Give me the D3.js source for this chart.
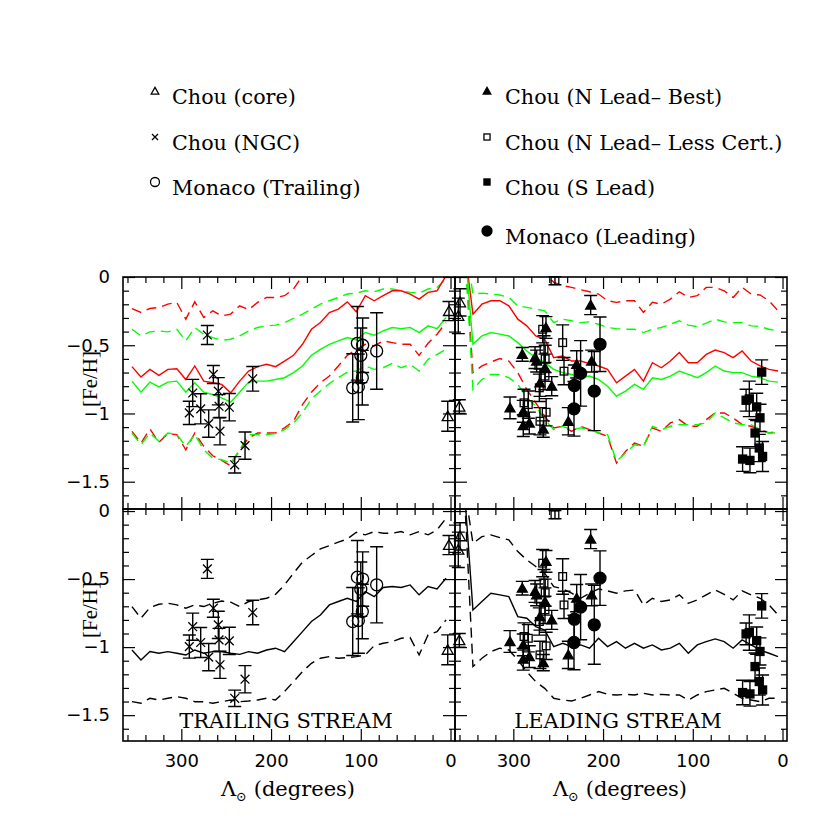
<!DOCTYPE html>
<html><head><meta charset="utf-8">
<script src="https://cdn.jsdelivr.net/npm/d3@7"></script>
<style>body{margin:0;background:#fff}</style>
</head><body><svg id="c" width="830" height="830"></svg>
<script>
// ---------- data ----------
const lambdaGrid = [355,345,335,325,315,305,295,285,275,265,255,245,235,225,215,205,195,185,175,165,155,145,135,125,115,105,95,85,75,65,55,45,35,25,15,5];

// trailing-stream model curves (top: red = one model, green = other; bottom: black)
const trailRedSolid   = [-0.657,-0.733,-0.677,-0.721,-0.677,-0.672,-0.751,-0.652,-0.763,-0.775,-0.787,-0.849,-0.763,-0.689,-0.657,-0.640,-0.657,-0.616,-0.574,-0.493,-0.383,-0.334,-0.260,-0.235,-0.182,-0.255,-0.137,-0.174,-0.137,-0.101,-0.101,-0.125,-0.162,-0.113,-0.101,0.010];
const trailGreenSolid = [-0.763,-0.844,-0.770,-0.805,-0.770,-0.763,-0.844,-0.775,-0.844,-0.861,-0.885,-0.917,-0.844,-0.770,-0.763,-0.763,-0.751,-0.738,-0.701,-0.652,-0.574,-0.530,-0.493,-0.468,-0.444,-0.461,-0.407,-0.427,-0.395,-0.370,-0.378,-0.370,-0.407,-0.358,-0.378,-0.297];
const trailRedUpper   = [-0.231,-0.260,-0.231,-0.223,-0.199,-0.186,-0.309,-0.182,-0.297,-0.248,-0.285,-0.272,-0.211,-0.240,-0.186,-0.150,-0.150,-0.137,-0.088,0.010,0.06,0.08,0.10,0.12,0.14,0.10,0.15,0.13,0.15,0.17,0.17,0.15,0.12,0.16,0.17,0.25];
const trailGreenUpper = [-0.383,-0.432,-0.402,-0.395,-0.402,-0.383,-0.468,-0.370,-0.419,-0.444,-0.464,-0.456,-0.432,-0.395,-0.370,-0.358,-0.353,-0.334,-0.304,-0.272,-0.235,-0.199,-0.174,-0.150,-0.125,-0.118,-0.101,-0.108,-0.088,-0.088,-0.101,-0.113,-0.118,-0.088,-0.076,-0.015];
const trailRedLower   = [-1.131,-1.217,-1.114,-1.212,-1.148,-1.155,-1.266,-1.143,-1.241,-1.310,-1.344,-1.383,-1.266,-1.180,-1.143,-1.143,-1.143,-1.106,-1.057,-0.935,-0.844,-0.775,-0.726,-0.652,-0.574,-0.530,-0.493,-0.505,-0.468,-0.481,-0.493,-0.493,-0.574,-0.486,-0.419,-0.334];
const trailGreenLower = [-1.143,-1.229,-1.143,-1.204,-1.143,-1.155,-1.241,-1.155,-1.266,-1.327,-1.339,-1.364,-1.266,-1.155,-1.155,-1.155,-1.148,-1.119,-1.070,-0.996,-0.893,-0.836,-0.780,-0.738,-0.697,-0.689,-0.652,-0.677,-0.665,-0.633,-0.665,-0.640,-0.689,-0.603,-0.567,-0.530];
const trailBlackSolid = [-1.021,-1.094,-1.033,-1.045,-1.033,-1.045,-1.058,-1.021,-1.045,-1.033,-1.033,-1.045,-1.053,-1.033,-1.045,-1.021,-1.008,-1.033,-0.960,-0.886,-0.812,-0.764,-0.690,-0.665,-0.641,-0.665,-0.592,-0.629,-0.562,-0.555,-0.562,-0.543,-0.616,-0.555,-0.572,-0.494];
const trailBlackUpper = [-0.702,-0.788,-0.710,-0.685,-0.678,-0.690,-0.714,-0.690,-0.702,-0.678,-0.661,-0.670,-0.702,-0.665,-0.653,-0.641,-0.612,-0.543,-0.457,-0.376,-0.327,-0.278,-0.254,-0.229,-0.205,-0.156,-0.175,-0.151,-0.163,-0.163,-0.151,-0.175,-0.151,-0.175,-0.138,-0.053];
const trailBlackLower = [-1.401,-1.413,-1.376,-1.389,-1.376,-1.364,-1.376,-1.401,-1.401,-1.413,-1.401,-1.389,-1.401,-1.396,-1.389,-1.376,-1.389,-1.327,-1.254,-1.180,-1.119,-1.082,-1.070,-1.082,-1.077,-1.070,-1.058,-0.989,-0.972,-0.960,-0.935,-0.930,-1.058,-0.910,-0.886,-0.800];

// leading-stream model curves
const leadRedSolid   = [0.25,-0.272,-0.199,-0.174,-0.174,-0.211,-0.309,-0.358,-0.432,-0.456,-0.591,-0.579,-0.616,-0.616,-0.635,-0.652,-0.677,-0.775,-0.726,-0.677,-0.763,-0.628,-0.665,-0.616,-0.554,-0.628,-0.628,-0.567,-0.535,-0.554,-0.591,-0.542,-0.616,-0.652,-0.677,-0.689];
const leadGreenSolid = [0.3,-0.493,-0.432,-0.407,-0.419,-0.432,-0.481,-0.542,-0.591,-0.628,-0.677,-0.701,-0.714,-0.738,-0.726,-0.751,-0.800,-0.873,-0.836,-0.787,-0.824,-0.738,-0.751,-0.726,-0.689,-0.714,-0.738,-0.701,-0.652,-0.689,-0.701,-0.701,-0.726,-0.738,-0.763,-0.770];
const leadRedUpper   = [0.3,0.2,0.25,0.27,0.27,0.25,0.18,0.12,0.08,0.03,-0.039,-0.064,-0.076,-0.093,-0.108,-0.125,-0.174,-0.186,-0.174,-0.174,-0.260,-0.186,-0.199,-0.162,-0.108,-0.150,-0.137,-0.076,-0.076,-0.101,-0.150,-0.076,-0.125,-0.132,-0.174,-0.248];
const leadGreenUpper = [0.3,-0.125,-0.118,-0.125,-0.132,-0.150,-0.211,-0.223,-0.235,-0.248,-0.334,-0.309,-0.321,-0.334,-0.329,-0.346,-0.370,-0.378,-0.383,-0.383,-0.407,-0.383,-0.370,-0.346,-0.321,-0.353,-0.363,-0.338,-0.309,-0.329,-0.334,-0.334,-0.358,-0.363,-0.383,-0.395];
const leadRedLower   = [0.3,-0.701,-0.652,-0.623,-0.598,-0.616,-0.701,-0.824,-0.922,-1.020,-1.106,-1.094,-1.131,-1.094,-1.118,-1.143,-1.168,-1.364,-1.278,-1.217,-1.241,-1.106,-1.131,-1.069,-1.045,-1.094,-1.094,-1.045,-0.996,-0.996,-1.033,-1.082,-1.094,-1.118,-1.143,-1.131];
const leadGreenLower = [0.3,-0.824,-0.751,-0.714,-0.714,-0.738,-0.787,-0.885,-0.947,-1.045,-1.118,-1.094,-1.118,-1.106,-1.118,-1.143,-1.155,-1.351,-1.290,-1.229,-1.241,-1.094,-1.118,-1.094,-1.082,-1.082,-1.082,-1.069,-0.996,-1.033,-1.069,-1.082,-1.082,-1.118,-1.143,-1.143];
const leadBlackSolid = [0.2,-0.727,-0.665,-0.604,-0.616,-0.629,-0.776,-0.788,-0.849,-0.874,-0.996,-0.972,-0.996,-0.984,-1.008,-0.935,-0.996,-0.960,-1.008,-0.972,-1.008,-0.984,-1.021,-1.008,-0.972,-1.045,-0.984,-0.960,-0.940,-0.960,-1.008,-0.947,-0.984,-1.021,-1.045,-1.070];
const leadBlackUpper = [0.2,-0.237,-0.188,-0.175,-0.195,-0.212,-0.298,-0.359,-0.408,-0.457,-0.555,-0.572,-0.604,-0.641,-0.604,-0.572,-0.587,-0.604,-0.587,-0.580,-0.690,-0.641,-0.665,-0.653,-0.616,-0.678,-0.653,-0.616,-0.580,-0.612,-0.653,-0.587,-0.616,-0.641,-0.690,-0.763];
const leadBlackLower = [0.2,-1.143,-1.082,-1.033,-1.008,-1.021,-1.094,-1.180,-1.254,-1.303,-1.376,-1.389,-1.396,-1.376,-1.352,-1.327,-1.347,-1.352,-1.347,-1.352,-1.339,-1.352,-1.347,-1.352,-1.352,-1.389,-1.352,-1.327,-1.315,-1.303,-1.339,-1.376,-1.389,-1.401,-1.376,-1.376];

// observations: longitude, [Fe/H], error
const coreLam = [1.7,-10.6,-8.7,3.1,-9.8];
const coreFe  = [-0.25,-0.186,-0.285,-1.02,-0.95];
const coreErr = [0.07,0.10,0.13,0.11,0.05];

const ngcLam = [271,264.3,287.3,258.8,291.1,278.4,258,246.5,269.5,256.9,240.5,229,220.4];
const ngcFe  = [-0.425,-0.714,-0.85,-0.837,-0.996,-0.966,-0.947,-0.954,-1.074,-1.13,-1.376,-1.236,-0.746];
const ngcErr = [0.07,0.066,0.1,0.1,0.085,0.11,0.085,0.1,0.1,0.1,0.06,0.1,0.09];

const monTLam = [109,102.7,103.8,97.9,100,98.3,82.3];
const monTFe  = [-0.812,-0.805,-0.486,-0.5,-0.574,-0.738,-0.542];
const monTErr = [0.25,0.24,0.27,0.2,0.2,0.2,0.28];

const nBestLam = [290,303.7,288.9,288.9,282.2,275.8,274,263.6,264.7,270.3,257.2,266.6,238.7,229.4,212.7,213.8];
const nBestFe  = [-0.567,-0.959,-0.984,-1.089,-1.07,-0.591,-0.616,-0.37,-0.665,-0.775,-0.8,-1.114,-1.057,-0.64,-0.616,-0.206];
const nBestErr = [0.05,0.08,0.08,0.08,0.08,0.08,0.08,0.08,0.1,0.1,0.07,0.06,0.1,0.1,0.08,0.07];

const nLessLam = [253.6,267.3,245,265.8,264.5,243.5,264.7,271,288.1,283.3,263.4,270.3];
const nLessFe  = [-0.027,-0.383,-0.481,-0.53,-0.6,-0.69,-0.726,-0.812,-0.922,-0.935,-0.991,-1.057];
const nLessErr = [0.03,0.1,0.13,0.1,0.1,0.1,0.1,0.1,0.1,0.1,0.1,0.1];

const sLeadLam = [23.2,40.6,37,28.8,25.1,30.6,25.9,44.5,36.3,22.2];
const sLeadFe  = [-0.697,-0.903,-0.893,-0.952,-1.032,-1.143,-1.253,-1.334,-1.344,-1.315];
const sLeadErr = [0.09,0.08,0.13,0.1,0.1,0.1,0.1,0.09,0.09,0.11];

const monLLam = [203.4,225,232,232.4,209.8];
const monLFe  = [-0.493,-0.706,-0.795,-0.966,-0.836];
const monLErr = [0.2,0.24,0.15,0.2,0.29];

const xMajor = [300,200,100,0];
const xMinor = [360,340,320,280,260,240,220,180,160,140,120,80,60,40,20];
const yMajor = [0,-0.5,-1,-1.5];
const yMinor = [-0.1,-0.2,-0.3,-0.4,-0.6,-0.7,-0.8,-0.9,-1.1,-1.2,-1.3,-1.4,-1.6];

const legendLeft  = ["Chou (core)","Chou (NGC)","Monaco (Trailing)"];
const legendRight = ["Chou (N Lead\u2013 Best)","Chou (N Lead\u2013 Less Cert.)","Chou (S Lead)","Monaco (Leading)"];

// ---------- drawing ----------
const svg = d3.select("#c");
const SERIF = "'DejaVu Serif', serif";
const TSERIF = "'Liberation Serif', serif";
const SANS = "'DejaVu Sans', sans-serif";
const RED = "#ff0000", GREEN = "#00ff00";

const xL = d3.scaleLinear().domain([365,-5]).range([123,455]);
const xR = d3.scaleLinear().domain([365,-5]).range([455,787]);
const yT = d3.scaleLinear().domain([0,-1.7]).range([277,509]);
const yB = d3.scaleLinear().domain([0.015,-1.69]).range([509,741]);

const panels = [
  {id:"tl", x:xL, y:yT, ylab:true,  xlab:false},
  {id:"tr", x:xR, y:yT, ylab:false, xlab:false},
  {id:"bl", x:xL, y:yB, ylab:true,  xlab:true},
  {id:"br", x:xR, y:yB, ylab:false, xlab:true}
];
const P = Object.fromEntries(panels.map(p=>[p.id,p]));

const defs = svg.append("defs");
panels.forEach(p=>{
  defs.append("clipPath").attr("id","clip-"+p.id).append("rect")
    .attr("x",p.x.range()[0]).attr("y",p.y.range()[0])
    .attr("width",p.x.range()[1]-p.x.range()[0]).attr("height",p.y.range()[1]-p.y.range()[0]);
});

const yFmt = d=> d===0 ? "0" : d3.format("")(d);

function styleAxis(g){
  g.select(".domain").remove();
  g.selectAll(".tick line").attr("stroke","#000").attr("stroke-width",1.2);
  g.selectAll("text").attr("font-family",SANS).attr("font-size",18).attr("fill","#000");
}

// model lines
const modelSets = [
  {p:"tl", data:[[trailRedUpper,RED,true],[trailGreenUpper,GREEN,true],[trailRedLower,RED,true],[trailGreenLower,GREEN,true],[trailRedSolid,RED,false],[trailGreenSolid,GREEN,false]]},
  {p:"tr", data:[[leadRedUpper,RED,true],[leadGreenUpper,GREEN,true],[leadRedLower,RED,true],[leadGreenLower,GREEN,true],[leadRedSolid,RED,false],[leadGreenSolid,GREEN,false]]},
  {p:"bl", data:[[trailBlackUpper,"#000",true],[trailBlackLower,"#000",true],[trailBlackSolid,"#000",false]]},
  {p:"br", data:[[leadBlackUpper,"#000",true],[leadBlackLower,"#000",true],[leadBlackSolid,"#000",false]]}
];
modelSets.forEach(ms=>{
  const p = P[ms.p];
  const g = svg.append("g").attr("clip-path","url(#clip-"+p.id+")");
  const line = d3.line().x((d,i)=>p.x(lambdaGrid[i])).y(d=>p.y(d));
  ms.data.forEach(([vals,col,dashed])=>{
    g.append("path").attr("d",line(vals)).attr("fill","none").attr("stroke",col)
      .attr("stroke-width",1.4).attr("stroke-dasharray",dashed?"10,6":null);
  });
});

// axes + frames
panels.forEach(p=>{
  const [x0,x1] = p.x.range(), [y0,y1] = p.y.range();
  const addAxis = (axisFn, tx, ty, vals, size, labels, fmt, pad)=>{
    const ax = axisFn(axisFn===d3.axisBottom||axisFn===d3.axisTop ? p.x : p.y)
      .tickValues(vals).tickSize(-size).tickPadding(pad||3)
      .tickFormat(labels ? fmt : ()=>"");
    svg.append("g").attr("transform",`translate(${tx},${ty})`).call(ax).call(styleAxis);
  };
  addAxis(d3.axisBottom,0,y1,xMajor,12,p.xlab,d=>d,13);
  addAxis(d3.axisBottom,0,y1,xMinor,6,false);
  addAxis(d3.axisTop,0,y0,xMajor,12,false);
  addAxis(d3.axisTop,0,y0,xMinor,6,false);
  addAxis(d3.axisLeft,x0,0,yMajor,12,p.ylab,yFmt,13);
  addAxis(d3.axisLeft,x0,0,yMinor,6,false);
  addAxis(d3.axisRight,x1,0,yMajor,12,false);
  addAxis(d3.axisRight,x1,0,yMinor,6,false);
  svg.append("rect").attr("x",x0).attr("y",y0).attr("width",x1-x0).attr("height",y1-y0)
    .attr("fill","none").attr("stroke","#000").attr("stroke-width",1.6);
});

// markers
function marker(g, type, cx, cy, s){
  const sw = 1.3;
  if(type==="triOpen"||type==="triFill"){
    g.append("path").attr("d",`M${cx-s},${cy+s*0.8}L${cx+s},${cy+s*0.8}L${cx},${cy-s*0.95}Z`)
      .attr("fill",type==="triFill"?"#000":"none").attr("stroke","#000").attr("stroke-width",sw);
  } else if(type==="cross"){
    g.append("path").attr("d",`M${cx-s*0.8},${cy-s*0.8}L${cx+s*0.8},${cy+s*0.8}M${cx-s*0.8},${cy+s*0.8}L${cx+s*0.8},${cy-s*0.8}`)
      .attr("stroke","#000").attr("stroke-width",sw);
  } else if(type==="circOpen"||type==="circFill"){
    g.append("circle").attr("cx",cx).attr("cy",cy).attr("r",s)
      .attr("fill",type==="circFill"?"#000":"none").attr("stroke","#000").attr("stroke-width",sw);
  } else if(type==="sqOpen"||type==="sqFill"){
    g.append("rect").attr("x",cx-s*0.8).attr("y",cy-s*0.8).attr("width",s*1.6).attr("height",s*1.6)
      .attr("fill",type==="sqFill"?"#000":"none").attr("stroke","#000").attr("stroke-width",sw);
  }
}
function drawObs(p, lam, fe, err, type, s){
  const g = svg.append("g");
  lam.forEach((L,i)=>{
    const cx = p.x(L), ya = p.y(fe[i]+err[i]), yb = p.y(fe[i]-err[i]);
    g.append("path").attr("d",`M${cx},${ya}L${cx},${yb}M${cx-6.5},${ya}L${cx+6.5},${ya}M${cx-6.5},${yb}L${cx+6.5},${yb}`)
      .attr("stroke","#000").attr("stroke-width",1.4).attr("fill","none");
  });
  lam.forEach((L,i)=>marker(g,type,p.x(L),p.y(fe[i]),s));
}
["tl","bl"].forEach(id=>{
  const p = P[id];
  drawObs(p, coreLam, coreFe, coreErr, "triOpen", 5.5);
  drawObs(p, ngcLam, ngcFe, ngcErr, "cross", 5.5);
  drawObs(p, monTLam, monTFe, monTErr, "circOpen", 6);
});
["tr","br"].forEach(id=>{
  const p = P[id];
  drawObs(p, nLessLam, nLessFe, nLessErr, "sqOpen", 4.8);
  drawObs(p, nBestLam, nBestFe, nBestErr, "triFill", 5);
  drawObs(p, sLeadLam, sLeadFe, sLeadErr, "sqFill", 5);
  drawObs(p, monLLam, monLFe, monLErr, "circFill", 6);
});

// panel captions
svg.append("text").attr("x",286).attr("y",728).attr("text-anchor","middle")
  .attr("font-family",SERIF).attr("font-size",21).text("TRAILING STREAM");
svg.append("text").attr("x",618).attr("y",728).attr("text-anchor","middle")
  .attr("font-family",SERIF).attr("font-size",21).text("LEADING STREAM");

// axis titles
[[xL,288],[xR,620]].forEach(([s,cx])=>{
  const t = svg.append("text").attr("x",cx).attr("y",796).attr("text-anchor","middle")
    .attr("font-family",SERIF).attr("font-size",21);
  t.append("tspan").text("\u039B");
  t.append("tspan").attr("font-size",13).attr("dy",5).text("\u2299");
  t.append("tspan").attr("dy",-5).text(" (degrees)");
});
[[yT,379],[yB,610]].forEach(([s,cy])=>{
  svg.append("text").attr("transform",`translate(97,${cy}) rotate(-90)`).attr("text-anchor","middle")
    .attr("font-family",TSERIF).attr("font-size",21).text("[Fe/H]");
});

// legend
const legG = svg.append("g");
const legLeftTypes = ["triOpen","cross","circOpen"];
const legRightTypes = ["triFill","sqOpen","sqFill","circFill"];
const legRowsY = [97,143,188,237];
legendLeft.forEach((t,i)=>{
  marker(legG, legLeftTypes[i], 155, legRowsY[i]-6, legLeftTypes[i]==="circOpen"?4.5:3.8);
  legG.append("text").attr("x",172).attr("y",legRowsY[i]+7).attr("font-family",SERIF).attr("font-size",20.7).text(t);
});
legendRight.forEach((t,i)=>{
  marker(legG, legRightTypes[i], 487, legRowsY[i]-6, legRightTypes[i]==="circFill"?5:3.8);
  legG.append("text").attr("x",505).attr("y",legRowsY[i]+7).attr("font-family",SERIF).attr("font-size",20.7).text(t);
});
</script>
</body></html>
